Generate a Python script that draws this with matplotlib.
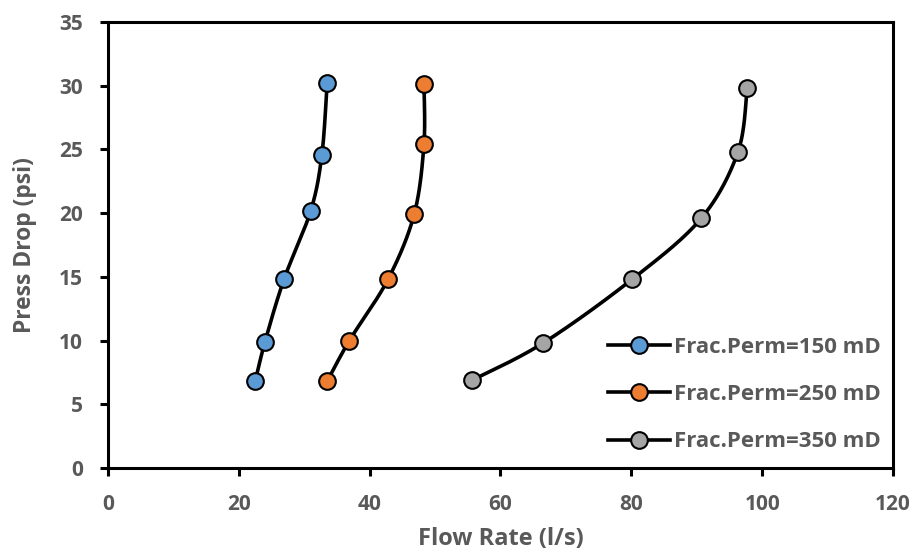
import numpy as np
import matplotlib
matplotlib.use("Agg")
import matplotlib.pyplot as plt
from matplotlib.lines import Line2D

# data
flow_150 = [22.5, 24.0, 26.9, 31.0, 32.7, 33.5]
drop_150 = [6.8, 9.9, 14.8, 20.2, 24.6, 30.2]
flow_250 = [33.5, 36.9, 42.8, 46.8, 48.3, 48.3]
drop_250 = [6.8, 10.0, 14.8, 19.9, 25.4, 30.1]
flow_350 = [55.7, 66.5, 80.1, 90.7, 96.3, 97.7]
drop_350 = [6.9, 9.8, 14.8, 19.6, 24.8, 29.8]
labels = ['Frac.Perm=150 mD', 'Frac.Perm=250 mD', 'Frac.Perm=350 mD']
colors = ['#5b9bd5', '#ed7d31', '#a5a5a5']

TXT = '#595959'
plt.rcParams['font.family'] = ['Open Sans', 'DejaVu Sans']
plt.rcParams['font.weight'] = 'bold'


def smooth(x, y, n=30):
    # Excel-like smoothed line (cardinal bezier through the points)
    p = np.column_stack([x, y]).astype(float)
    p = np.vstack([p[0], p, p[-1]])
    out = []
    t = np.linspace(0, 1, n)[:, None]
    for i in range(1, len(p) - 2):
        p0, p1, p2, p3 = p[i - 1], p[i], p[i + 1], p[i + 2]
        c1 = p1 + (p2 - p0) / 6
        c2 = p2 - (p3 - p1) / 6
        seg = ((1 - t) ** 3) * p1 + 3 * ((1 - t) ** 2) * t * c1 + 3 * (1 - t) * t ** 2 * c2 + t ** 3 * p2
        out.append(seg)
    out = np.vstack(out)
    return out[:, 0], out[:, 1]


fig = plt.figure(figsize=(9.19, 5.54), dpi=100)
ax = fig.add_axes([0.1175, 0.1552, 0.8542, 0.8051])

handles = []
for fx, dy, c, lab in zip([flow_150, flow_250, flow_350], [drop_150, drop_250, drop_350], colors, labels):
    sx, sy = smooth(fx, dy)
    ax.plot(sx, sy, color='black', lw=2.6, zorder=2)
    ax.plot(fx, dy, 'o', ms=12, mfc=c, mec='black', mew=1.5, zorder=3)
    handles.append(Line2D([0], [0], color='black', lw=2.6, marker='o', ms=12,
                          mfc=c, mec='black', mew=1.5, label=lab))

ax.set_xlim(0, 120)
ax.set_ylim(0, 35)
ax.set_xticks(range(0, 121, 20))
ax.set_yticks(range(0, 36, 5))
for s in ax.spines.values():
    s.set_linewidth(2.2)
    s.set_color('black')
ax.tick_params(direction='out', length=6, width=2.2, colors='black',
               labelcolor=TXT, labelsize=15)
ax.tick_params(axis='x', pad=13)
ax.tick_params(axis='y', pad=12)
for lbl in ax.get_xticklabels() + ax.get_yticklabels():
    lbl.set_fontweight('bold')

ax.set_xlabel('Flow Rate (l/s)', fontsize=17, fontweight='bold', color=TXT, labelpad=8)
ax.set_ylabel('Press Drop (psi)', fontsize=16.5, fontweight='bold', color=TXT, labelpad=16)

leg = ax.legend(handles=handles, loc='lower right', bbox_to_anchor=(0.985, 0.035),
                frameon=False, fontsize=16, handlelength=2.8, labelspacing=1.18,
                handletextpad=0.2, borderpad=0, borderaxespad=0)
for t in leg.get_texts():
    t.set_color(TXT)
    t.set_fontweight('bold')

fig.savefig('out.png', dpi=100)
